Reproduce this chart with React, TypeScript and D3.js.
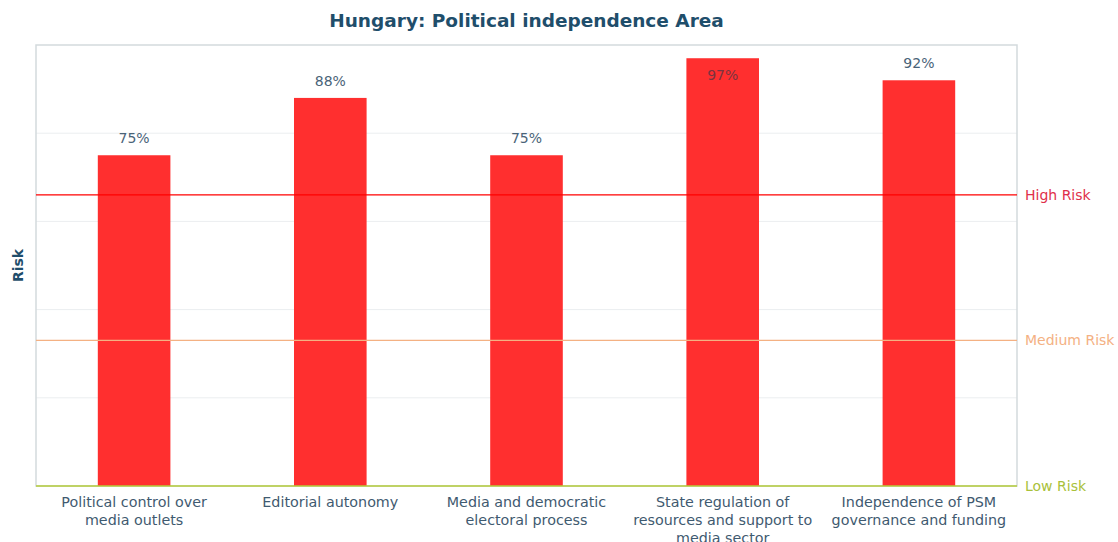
import { useEffect, useRef } from "react";
import * as d3 from "d3";

const categories = [
    "Political control over|media outlets",
    "Editorial autonomy",
    "Media and democratic|electoral process",
    "State regulation of|resources and support to|media sector",
    "Independence of PSM|governance and funding",
];
const risks = [75, 88, 75, 97, 92];
const gridTicks = [20, 40, 60, 80];
const riskLevels = [
    { name: "High Risk", value: 66, color: "#ff0000", label: "#e0304a" },
    { name: "Medium Risk", value: 33, color: "#f4b183", label: "#f4b183" },
    { name: "Low Risk", value: 0, color: "#b5cc3a", label: "#a9c13a" },
];

export default function App() {
    const ref = useRef<SVGSVGElement | null>(null);

    useEffect(() => {
        const width = 1118;
        const height = 542;
        const margin = { top: 45, right: 101, bottom: 56, left: 36 };
        const svg = d3.select(ref.current);
        svg.selectAll("*").remove();

        const x = d3
            .scaleBand<string>()
            .domain(categories)
            .range([margin.left, width - margin.right])
            .paddingInner(0.63)
            .paddingOuter(0.315);
        const y = d3
            .scaleLinear()
            .domain([0, 100])
            .range([height - margin.bottom, margin.top]);

        // grid
        svg.append("g")
            .selectAll("line")
            .data(gridTicks)
            .join("line")
            .attr("x1", margin.left)
            .attr("x2", width - margin.right)
            .attr("y1", (d) => y(d))
            .attr("y2", (d) => y(d))
            .attr("stroke", "#ebeef0")
            .attr("stroke-width", 1);

        // frame
        svg.append("rect")
            .attr("x", margin.left)
            .attr("y", margin.top)
            .attr("width", width - margin.right - margin.left)
            .attr("height", height - margin.bottom - margin.top)
            .attr("fill", "none")
            .attr("stroke", "#d3dadd")
            .attr("stroke-width", 1.5);

        // bars
        svg.append("g")
            .selectAll("rect")
            .data(risks)
            .join("rect")
            .attr("x", (_, i) => x(categories[i]) ?? 0)
            .attr("width", x.bandwidth())
            .attr("y", (d) => y(d))
            .attr("height", (d) => y(0) - y(d))
            .attr("fill", "#ff2f2f");

        // risk threshold lines
        riskLevels.forEach((r) => {
            svg.append("line")
                .attr("x1", margin.left)
                .attr("x2", width - margin.right)
                .attr("y1", y(r.value))
                .attr("y2", y(r.value))
                .attr("stroke", r.color)
                .attr("stroke-width", r.value === 0 ? 1.5 : 1.3);
            svg.append("text")
                .attr("x", width - margin.right + 8)
                .attr("y", y(r.value))
                .attr("dy", "0.35em")
                .attr("fill", r.label)
                .attr("font-size", 14)
                .text(r.name);
        });

        // value labels
        svg.append("g")
            .selectAll("text")
            .data(risks)
            .join("text")
            .attr("x", (_, i) => (x(categories[i]) ?? 0) + x.bandwidth() / 2)
            .attr("y", (d) => (d > 95 ? y(d) + 22 : y(d) - 12))
            .attr("text-anchor", "middle")
            .attr("font-size", 14)
            .attr("fill", (d) => (d > 95 ? "#7a3440" : "#4a6378"))
            .text((d) => `${d}%`);

        // category labels
        const cat = svg.append("g")
            .selectAll("text")
            .data(categories)
            .join("text")
            .attr("x", (d) => (x(d) ?? 0) + x.bandwidth() / 2)
            .attr("y", y(0) + 21)
            .attr("text-anchor", "middle")
            .attr("font-size", 14.3)
            .attr("fill", "#3f5a70");
        cat.selectAll("tspan")
            .data((d) => d.split("|").map((t) => ({ t, px: (x(d) ?? 0) + x.bandwidth() / 2 })))
            .join("tspan")
            .attr("x", (d) => d.px)
            .attr("dy", (_, i) => (i === 0 ? 0 : 18))
            .text((d) => d.t);

        // axis title
        svg.append("text")
            .attr("transform", `translate(18,${(margin.top + height - margin.bottom) / 2}) rotate(-90)`)
            .attr("text-anchor", "middle")
            .attr("dy", "0.35em")
            .attr("font-size", 14)
            .attr("font-weight", "bold")
            .attr("fill", "#1f4e6b")
            .text("Risk");

        // title
        svg.append("text")
            .attr("x", (margin.left + width - margin.right) / 2)
            .attr("y", 27)
            .attr("text-anchor", "middle")
            .attr("font-size", 18.5)
            .attr("font-weight", "bold")
            .attr("fill", "#1f4e6b")
            .text("Hungary: Political independence Area");
    }, []);

    return (
        <div style={{ position: "absolute", left: 0, top: 0, background: "#fff" }}>
            <svg
                ref={ref}
                width={1118}
                height={542}
                style={{ display: "block", fontFamily: "'DejaVu Sans', sans-serif" }}
            />
        </div>
    );
}
